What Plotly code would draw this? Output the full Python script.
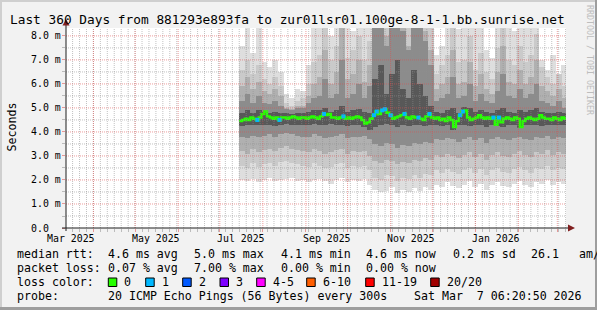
import plotly.graph_objects as go
import pandas as pd

# ------------------------------------------------------------------ data
end_time = "2026-03-07 06:20:50"
span_days = 360
smoke_start = "2025-07-15"
smoke_bin_days = 4
median_bin_days = 2

# smoke bands (ms): outer -> inner, per 4-day bin (59 bins)
band1_lo = [2.0, 1.95, 2.05, 1.9, 2.0, 2.1, 1.95, 2.0, 2.05, 2.1, 1.95, 2.0, 1.9, 2.0, 2.05, 1.95, 1.85, 2.0, 2.1, 1.9, 2.0, 1.95, 2.05, 1.8,
            1.6, 1.5, 1.55, 1.7, 1.45, 1.6, 1.5, 1.65, 1.55, 1.7, 1.6,
            1.8, 1.7, 1.9, 1.75, 1.65, 1.8, 1.95, 1.7, 1.85, 1.6, 1.8, 1.9, 1.75, 1.7, 1.85, 1.95, 1.8, 1.7, 1.9, 1.85, 2.0, 1.8, 1.9, 1.85]
band1_hi = [7.6, 8.6, 7.3, 8.6, 6.9, 6.7, 7.0, 6.5, 5.6, 5.4, 5.8, 5.7, 6.8, 8.6,
            8.6, 8.6, 8.0, 8.6, 8.6, 8.6, 8.2, 8.6, 8.6, 8.6,
            8.6, 8.6, 8.6, 8.6, 8.6, 8.6, 8.6, 8.6, 8.6, 8.6, 8.6,
            7.2, 7.6, 8.6, 8.6, 8.3, 8.6, 8.6, 8.6, 8.6, 7.4, 7.1, 8.6, 8.6, 8.6, 8.2, 8.6, 8.6, 8.6, 8.4, 7.0, 6.6, 7.2, 6.4, 6.8]
band2_lo = [2.6, 2.5, 2.7, 2.55, 2.65, 2.7, 2.6, 2.75, 2.8, 2.7, 2.65, 2.6, 2.55, 2.7, 2.6, 2.5, 2.55, 2.65, 2.7, 2.5, 2.6, 2.55, 2.6, 2.4,
            2.1, 2.0, 2.2, 2.15, 1.95, 2.1, 2.05, 2.2, 2.1, 2.25, 2.2,
            2.4, 2.3, 2.45, 2.35, 2.25, 2.4, 2.5, 2.3, 2.45, 2.2, 2.4, 2.5, 2.35, 2.3, 2.45, 2.55, 2.4, 2.3, 2.5, 2.45, 2.6, 2.4, 2.5, 2.45]
band2_hi = [6.6, 7.0, 6.4, 6.8, 6.2, 6.0, 6.3, 5.9, 5.2, 5.1, 5.3, 5.4, 6.0, 6.9,
            7.2, 8.6, 7.0, 7.6, 8.6, 7.1, 7.4, 8.0, 7.0, 7.8,
            8.6, 8.6, 8.6, 8.6, 8.6, 8.6, 8.6, 8.6, 8.6, 8.6, 8.6,
            6.4, 6.8, 7.2, 8.6, 6.9, 7.0, 8.0, 6.6, 7.3, 6.5, 6.2, 7.5, 8.6, 7.0, 6.8, 7.6, 6.9, 7.2, 8.1, 6.7, 6.3, 6.0, 6.4, 5.9]
band3_lo = [3.2, 3.1, 3.3, 3.15, 3.25, 3.3, 3.2, 3.35, 3.4, 3.3, 3.25, 3.2, 3.15, 3.3, 3.2, 3.1, 3.15, 3.25, 3.3, 3.1, 3.2, 3.15, 3.2, 3.0,
            2.8, 2.7, 2.85, 2.8, 2.65, 2.75, 2.7, 2.85, 2.8, 2.9, 2.85,
            3.05, 2.95, 3.1, 3.0, 2.9, 3.05, 3.15, 2.95, 3.1, 2.85, 3.05, 3.15, 3.0, 2.95, 3.1, 3.2, 3.05, 2.95, 3.15, 3.1, 3.25, 3.05, 3.15, 3.1]
band3_hi = [5.9, 6.3, 5.8, 6.1, 5.7, 5.6, 5.8, 5.5, 5.0, 4.95, 5.1, 5.1, 5.5, 6.0,
            6.3, 7.4, 6.0, 6.5, 8.6, 6.2, 6.4, 7.0, 6.1, 6.8,
            8.6, 8.6, 8.0, 8.6, 8.6, 8.6, 7.6, 8.6, 8.6, 8.2, 7.4,
            5.8, 6.0, 6.3, 7.4, 6.0, 6.1, 6.9, 5.9, 6.4, 5.8, 5.6, 6.5, 7.6, 6.1, 6.0, 6.6, 6.0, 6.3, 7.0, 5.9, 5.7, 5.5, 5.8, 5.4]
band4_lo = [3.8, 3.75, 3.85, 3.8, 3.85, 3.9, 3.8, 3.9, 3.95, 3.9, 3.85, 3.8, 3.8, 3.9, 3.85, 3.75, 3.8, 3.85, 3.9, 3.75, 3.8, 3.8, 3.85, 3.7,
            3.5, 3.4, 3.55, 3.5, 3.35, 3.45, 3.4, 3.55, 3.5, 3.6, 3.55,
            3.7, 3.65, 3.75, 3.7, 3.6, 3.7, 3.8, 3.65, 3.75, 3.55, 3.7, 3.8, 3.7, 3.65, 3.75, 3.8, 3.7, 3.65, 3.8, 3.75, 3.85, 3.7, 3.8, 3.75]
band4_hi = [5.3, 5.6, 5.2, 5.5, 5.2, 5.15, 5.3, 5.1, 4.95, 4.9, 5.0, 5.0, 5.2, 5.4,
            5.5, 6.2, 5.4, 5.6, 7.0, 5.4, 5.6, 6.0, 5.4, 5.9,
            8.6, 8.6, 7.6, 8.6, 8.6, 8.2, 7.4, 8.6, 8.6, 7.8, 6.8,
            5.3, 5.4, 5.6, 6.3, 5.4, 5.5, 6.0, 5.3, 5.6, 5.3, 5.2, 5.7, 6.4, 5.5, 5.4, 5.8, 5.4, 5.6, 6.0, 5.3, 5.2, 5.1, 5.3, 5.0]
band5_lo = [4.25, 4.3, 4.3, 4.3, 4.3, 4.3, 4.25, 4.3, 4.35, 4.3, 4.3, 4.3, 4.3, 4.35, 4.3, 4.3, 4.35, 4.3, 4.3, 4.25, 4.3, 4.3, 4.2, 4.1,
            4.2, 4.3, 4.35, 4.3, 4.2, 4.3, 4.25, 4.3, 4.3, 4.25, 4.3,
            4.3, 4.25, 4.3, 4.1, 4.3, 4.3, 4.25, 4.3, 4.3, 4.2, 4.3, 4.25, 4.2, 4.3, 4.3, 4.15, 4.3, 4.3, 4.3, 4.25, 4.3, 4.3, 4.3, 4.3]
band5_hi = [4.8, 4.9, 4.8, 4.9, 4.85, 4.8, 4.85, 4.8, 4.8, 4.75, 4.8, 4.8, 4.85, 4.9, 4.9, 5.0, 4.85, 4.9, 5.1, 4.85, 4.9, 4.95, 4.85, 4.8,
            6.2, 6.8, 5.6, 6.4, 7.0, 5.8, 5.4, 6.6, 6.0, 5.5, 5.1,
            4.85, 4.8, 4.9, 5.0, 4.8, 5.05, 5.0, 4.85, 4.9, 4.85, 4.8, 4.9, 5.0, 4.85, 4.8, 4.9, 4.85, 4.9, 5.0, 4.85, 4.8, 4.8, 4.85, 4.8]
band_colors = ["#dedede", "#cacaca", "#b0b0b0", "#8c8c8c", "#585858"]

# median rtt (ms) per 2-day bin (118 bins)
median_rtt = [
    4.45, 4.5, 4.55, 4.5, 4.6, 4.55, 4.5, 4.6, 4.75, 4.85, 4.65, 4.6,
    4.55, 4.6, 4.5, 4.6, 4.6, 4.55, 4.6, 4.65, 4.6, 4.55, 4.6, 4.6,
    4.55, 4.6, 4.65, 4.6, 4.55, 4.65, 4.75, 4.7, 4.75, 4.6, 4.6, 4.55,
    4.6, 4.65, 4.55, 4.6, 4.55, 4.6, 4.65, 4.6, 4.5, 4.35, 4.4, 4.55,
    4.7, 4.85, 4.75, 4.9, 4.95, 4.8, 4.7, 4.55, 4.6, 4.65, 4.7, 4.75,
    4.6, 4.55, 4.65, 4.6, 4.6, 4.55, 4.5, 4.65, 4.75, 4.6, 4.55, 4.6,
    4.5, 4.55, 4.45, 4.6, 4.5, 4.2, 4.45, 4.7, 4.85, 4.9, 4.6, 4.5,
    4.55, 4.6, 4.7, 4.6, 4.55, 4.6, 4.55, 4.6, 4.3, 4.6, 4.4, 4.55,
    4.6, 4.55, 4.5, 4.6, 4.55, 4.2, 4.45, 4.55, 4.6, 4.55, 4.5, 4.55,
    4.7, 4.6, 4.55, 4.55, 4.5, 4.6, 4.55, 4.5, 4.6, 4.55]
loss_one_bins = [6, 14, 30, 37, 48, 49, 51, 52, 54, 59, 64, 68, 79, 80, 91, 93]

y_top = 8.33
y_major = [1, 2, 3, 4, 5, 6, 7, 8]
y_labels = ["0.0", "1.0 m", "2.0 m", "3.0 m", "4.0 m", "5.0 m", "6.0 m", "7.0 m", "8.0 m"]
x_label_months = ["2025-03-01", "2025-05-01", "2025-07-01", "2025-09-01", "2025-11-01", "2026-01-01"]
x_label_text = ["Mar 2025", "May 2025", "Jul 2025", "Sep 2025", "Nov 2025", "Jan 2026"]

title = "Last 360 Days from 881293e893fa to zur01lsr01.100ge-8-1-1.bb.sunrise.net"
stats_rtt = [("median rtt:", 16), ("4.6 ms avg", 107), ("5.0 ms max", 193), ("4.1 ms min", 280),
             ("4.6 ms now", 365), ("0.2 ms sd", 452), ("26.1", 530), ("am/s", 578)]
stats_loss = [("packet loss:", 16), ("0.07 % avg", 107), ("7.00 % max", 193), ("0.00 % min", 280), ("0.00 % now", 365)]
loss_names = ["0", "1", "2", "3", "4-5", "6-10", "11-19", "20/20"]
loss_colors = ["#26ff00", "#00b8ff", "#0059ff", "#7e00ff", "#ff00ff", "#ff5e00", "#ff0000", "#a10000"]
loss_box_x = [108.3, 145.7, 182.7, 220, 256.7, 306.7, 365.7, 430.7]
probe_text = [("probe:", 16), ("20 ICMP Echo Pings (56 Bytes) every 300s", 107), ("Sat Mar\u00a0 7 06:20:50 2026", 413)]

# ------------------------------------------------------------------ geometry (px)
W, H = 597, 310
PL, PR, PT, PB = 66, 566, 28, 228
FONT = "DejaVu Sans Mono"
PINK = "rgba(222,79,79,0.55)"
GRAY = "rgba(143,143,143,0.55)"


def fx(p):
    return (p - PL) / (PR - PL)


def fy(p):
    return (PB - p) / (PB - PT)


t_end = pd.Timestamp(end_time)
t_start = t_end - pd.Timedelta(days=span_days)
day_ms = 86400000

s0 = pd.Timestamp(smoke_start)
nb = len(band1_lo)
smoke_x = [s0 + pd.Timedelta(days=smoke_bin_days * (i + 0.5)) for i in range(nb)]

fig = go.Figure()
bands = [(band1_lo, band1_hi), (band2_lo, band2_hi), (band3_lo, band3_hi), (band4_lo, band4_hi), (band5_lo, band5_hi)]
for (lo, hi), col in zip(bands, band_colors):
    fig.add_trace(go.Bar(
        x=smoke_x, y=[h - l for h, l in zip(hi, lo)], base=lo,
        width=smoke_bin_days * day_ms * 1.03,
        marker=dict(color=col, line=dict(width=0)),
        showlegend=False, hoverinfo="skip"))

nm = len(median_rtt)
med_x = [s0 + pd.Timedelta(days=median_bin_days * j) for j in range(nm)]
fig.add_trace(go.Scatter(
    x=med_x + [t_end], y=median_rtt + [median_rtt[-1]], mode="lines",
    line=dict(color=loss_colors[0], width=2.4, shape="hv"),
    showlegend=False, hoverinfo="skip"))
fig.add_trace(go.Scatter(
    x=[s0 + pd.Timedelta(days=median_bin_days * j + 1) for j in loss_one_bins],
    y=[median_rtt[j] for j in loss_one_bins], mode="markers",
    marker=dict(symbol="square", size=4, color=loss_colors[1], line=dict(width=0)),
    showlegend=False, hoverinfo="skip"))

shapes = []
# minor grid
for d in pd.date_range("2025-03-12", t_end, freq="5D"):
    if d > t_start:
        shapes.append(dict(type="line", xref="x", yref="paper", x0=d, x1=d, y0=0, y1=1,
                           line=dict(color=GRAY, width=1, dash="1px,1px"), layer="above"))
for k in range(1, 17, 2):
    v = k * 0.5
    shapes.append(dict(type="line", xref="paper", yref="y", x0=0, x1=1, y0=v, y1=v,
                       line=dict(color=GRAY, width=1, dash="1px,1px"), layer="above"))
# major grid
for d in pd.date_range("2025-04-01", "2026-03-01", freq="MS"):
    shapes.append(dict(type="line", xref="x", yref="paper", x0=d, x1=d, y0=0, y1=1,
                       line=dict(color=PINK, width=1, dash="1px,1px"), layer="above"))
for v in y_major:
    shapes.append(dict(type="line", xref="paper", yref="y", x0=0, x1=1, y0=v, y1=v,
                       line=dict(color=PINK, width=1, dash="1px,1px"), layer="above"))

# axes lines + arrows
AX = "#1f1f1f"
ARROW = "#801f1f"
shapes.append(dict(type="line", xref="paper", yref="paper", x0=fx(62), x1=fx(569), y0=fy(228), y1=fy(228),
                   line=dict(color=AX, width=1), layer="above"))
shapes.append(dict(type="line", xref="paper", yref="paper", x0=fx(66), x1=fx(66), y0=fy(231), y1=fy(24),
                   line=dict(color=AX, width=1), layer="above"))
shapes.append(dict(type="path", xref="paper", yref="paper",
                   path=f"M {fx(568)},{fy(224.5)} L {fx(575)},{fy(228)} L {fx(568)},{fy(231.5)} Z",
                   fillcolor=ARROW, line=dict(width=0), layer="above"))
shapes.append(dict(type="path", xref="paper", yref="paper",
                   path=f"M {fx(62.5)},{fy(25.5)} L {fx(66)},{fy(19)} L {fx(69.5)},{fy(25.5)} Z",
                   fillcolor=ARROW, line=dict(width=0), layer="above"))

# frame
shapes.append(dict(type="rect", xref="paper", yref="paper", x0=fx(0), x1=fx(W), y0=fy(0), y1=fy(2),
                   fillcolor="#cfcfcf", line=dict(width=0), layer="above"))
shapes.append(dict(type="rect", xref="paper", yref="paper", x0=fx(0), x1=fx(2), y0=fy(0), y1=fy(H),
                   fillcolor="#cfcfcf", line=dict(width=0), layer="above"))
shapes.append(dict(type="rect", xref="paper", yref="paper", x0=fx(0), x1=fx(W), y0=fy(H - 3), y1=fy(H),
                   fillcolor="#9e9e9e", line=dict(width=0), layer="above"))
shapes.append(dict(type="rect", xref="paper", yref="paper", x0=fx(W - 2), x1=fx(W), y0=fy(0), y1=fy(H),
                   fillcolor="#9e9e9e", line=dict(width=0), layer="above"))

# legend colour boxes
for bx, col in zip(loss_box_x, loss_colors):
    shapes.append(dict(type="rect", xref="paper", yref="paper", x0=fx(bx), x1=fx(bx + 8.5),
                       y0=fy(278), y1=fy(286.5), fillcolor=col, line=dict(color="#000000", width=1), layer="above"))

ann = []


def text(t, x, y, size, anchor="left", angle=0, color="#000000", xref="paper"):
    ann.append(dict(text=t, x=x if xref != "paper" else fx(x), y=fy(y), xref=xref, yref="paper",
                    xanchor=anchor, yanchor="middle", showarrow=False, textangle=angle,
                    font=dict(family=FONT, size=size, color=color), borderpad=0))


text(title, 9, 19.5, 12.8)
for i, lab in enumerate(y_labels):
    text(lab, 30, PB - i * (PB - PT) / y_top, 9.9)
for m, lab in zip(x_label_months, x_label_text):
    text(lab, pd.Timestamp(m) + pd.Timedelta(days=15), 238, 9.9, anchor="center", xref="x")
text("Seconds", 11, 127.5, 11.6, anchor="center", angle=-90)
text("RRDTOOL / TOBI OETIKER", 590, 60, 8.3, anchor="center", angle=90, color="#bdbdbd")
for t, x in stats_rtt:
    text(t, x, 254.3, 11.6)
for t, x in stats_loss:
    text(t, x, 268.3, 11.6)
text("loss color:", 16, 282.3, 11.6)
for bx, name in zip(loss_box_x, loss_names):
    text(name, bx + 15, 282.3, 11.6)
for t, x in probe_text:
    text(t, x, 296, 11.6)

fig.update_layout(
    width=W, height=H, margin=dict(l=PL, r=W - PR, t=PT, b=H - PB, pad=0),
    paper_bgcolor="#f2f2f2", plot_bgcolor="#ffffff",
    barmode="overlay", bargap=0, hovermode=False, showlegend=False,
    shapes=shapes, annotations=ann,
    xaxis=dict(type="date", range=[t_start, t_end], showgrid=False, zeroline=False, showline=False,
               showticklabels=False, ticks="outside", ticklen=3, tickcolor=PINK,
               tickmode="linear", tick0="2025-01-01", dtick="M1",
               minor=dict(ticks="outside", ticklen=3, tickcolor=GRAY, tick0="2025-03-12",
                          dtick=5 * day_ms, showgrid=False)),
    yaxis=dict(range=[0, y_top], showgrid=False, zeroline=False, showline=False,
               showticklabels=False, ticks="outside", ticklen=3, tickcolor=PINK,
               tickmode="linear", tick0=0, dtick=1,
               minor=dict(ticks="outside", ticklen=3, tickcolor=GRAY, dtick=0.5, showgrid=False)),
)

fig.write_html("out.html")
